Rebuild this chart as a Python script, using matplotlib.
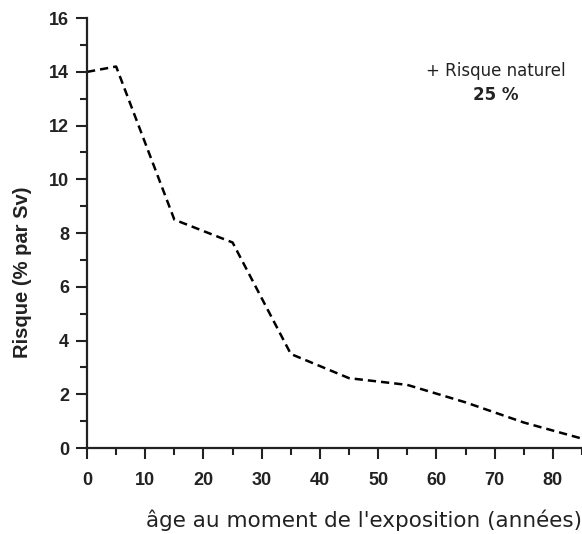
import numpy as np
import matplotlib.pyplot as plt
from matplotlib.ticker import MultipleLocator

plt.rcParams['font.family'] = ['Liberation Sans', 'DejaVu Sans']

# Risque en fonction de l'age au moment de l'exposition
age = [0, 5, 15, 25, 35, 45, 55, 65, 75, 85]
risque = [14.0, 14.2, 8.5, 7.65, 3.5, 2.6, 2.35, 1.7, 0.95, 0.35]

fig = plt.figure(figsize=(5.82, 5.34), dpi=100)
ax = fig.add_axes([0.1495, 0.161, 0.8505, 0.805])

ax.plot(age, risque, color='black', lw=1.8, linestyle=(0, (3.3, 2.0)),
        clip_on=False)

ax.set_xlim(0, 85)
ax.set_ylim(0, 16)
ax.xaxis.set_major_locator(MultipleLocator(10))
ax.xaxis.set_minor_locator(MultipleLocator(5))
ax.yaxis.set_major_locator(MultipleLocator(2))
ax.yaxis.set_minor_locator(MultipleLocator(1))

for s in ['top', 'right']:
    ax.spines[s].set_visible(False)
for s in ['left', 'bottom']:
    ax.spines[s].set_linewidth(1.6)
    ax.spines[s].set_color('#222222')

ax.tick_params(which='major', length=8, width=1.5, color='#222222')
ax.tick_params(which='minor', length=5, width=1.5, color='#222222')
ax.tick_params(axis='y', which='major', pad=5, labelsize=13)
ax.tick_params(axis='x', which='major', pad=9, labelsize=13)
for lab in ax.get_xticklabels() + ax.get_yticklabels():
    lab.set_fontweight('bold')
    lab.set_color('#222222')

ax.set_ylabel("Risque (% par Sv)", fontsize=14.5, fontweight='bold',
              color='#222222')
ax.yaxis.set_label_coords(-0.111, 0.41)
ax.set_xlabel("âge au moment de l'exposition (années)", fontsize=15.5,
              family='DejaVu Sans', ha='right', color='#222222')
ax.xaxis.set_label_coords(1.0, -0.142)

ax.text(0.825, 0.877, "+ Risque naturel", transform=ax.transAxes,
        ha='center', va='center', fontsize=12, family='DejaVu Sans',
        color='#222222')
ax.text(0.825, 0.822, "25 %", transform=ax.transAxes,
        ha='center', va='center', fontsize=12, fontweight='bold',
        family='DejaVu Sans', color='#222222')

plt.savefig("out.png", dpi=100)
